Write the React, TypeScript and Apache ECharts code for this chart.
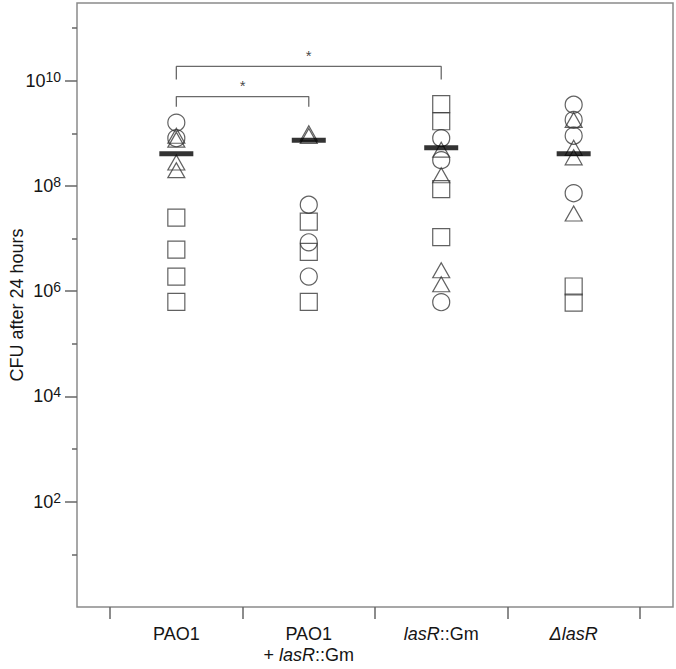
import React, { useEffect, useRef } from 'react';
import * as echarts from 'echarts';

// ---- data ----
const categories = ['PAO1', 'PAO1\n+ lasR::Gm', 'lasR::Gm', 'ΔlasR'];
const circleValues: number[][] = [
  [1.6e9, 8.1e8],
  [4.4e7, 8.5e6, 1.9e6],
  [8.1e8, 3.1e8, 6.2e5],
  [3.5e9, 1.8e9, 9.0e8, 7.3e7],
];
const squareValues: number[][] = [
  [2.5e7, 6.2e6, 1.9e6, 6.3e5],
  [2.1e7, 5.6e6, 6.3e5],
  [3.6e9, 1.7e9, 8.7e7, 1.07e7],
  [1.23e6, 6.1e5],
];
const triangleValues: number[][] = [
  [9.0e8, 7.6e8, 2.8e8, 2.0e8],
  [1.0e9, 8.9e8],
  [4.9e8, 1.6e8, 2.5e6, 1.36e6],
  [1.8e9, 5.3e8, 3.5e8, 3.0e7],
];
const meanValues = [4.1e8, 7.4e8, 5.3e8, 4.1e8];
const majorTicks = [1e2, 1e4, 1e6, 1e8, 1e10];
const minorTicks = [1e1, 1e3, 1e5, 1e7, 1e9, 1e11];
const groupBoundaries = [-0.5, 0.5, 1.5, 2.5, 3.5];
const comparisons = [
  { from: 0, to: 1, top: 5.0e9, leg: 3.2e9, label: '*' },
  { from: 0, to: 2, top: 1.87e10, leg: 1.05e10, label: '*' },
];

const FONT = 'Liberation Sans, Arial, Helvetica, sans-serif';
const TEXT = '#151515';

const toPoints = (groups: number[][]) =>
  groups.flatMap((vals, i) => vals.map((v) => [i, v]));

const fmtCat = (s: string) =>
  s
    .split('\n')
    .map((line) =>
      line
        .split(/(Δ?lasR)/)
        .filter(Boolean)
        .map((p) => (/lasR/.test(p) ? `{i|${p}}` : `{n|${p}}`))
        .join('')
    )
    .join('\n');

const shapeStyle = {
  color: 'rgba(0,0,0,0)',
  borderColor: '#3a3a3a',
  borderWidth: 1.2,
};

export default function App() {
  const ref = useRef<HTMLDivElement>(null);
  useEffect(() => {
    if (!ref.current) return;
    const chart = echarts.init(ref.current, undefined, { renderer: 'svg' });
    const option: any = {
      animation: false,
      backgroundColor: '#fff',
      grid: {
        left: 77,
        right: 3,
        top: 3,
        bottom: 62,
        show: true,
        borderColor: '#8a8a8a',
        borderWidth: 1.5,
        backgroundColor: 'transparent',
      },
      xAxis: {
        type: 'value',
        min: -0.75,
        max: 3.75,
        axisLine: { show: false, onZero: false },
        splitLine: { show: false },
        axisTick: {
          show: true,
          customValues: groupBoundaries,
          length: 12,
          lineStyle: { color: '#666', width: 1.5 },
        },
        axisLabel: {
          customValues: categories.map((_, i) => i),
          margin: 16,
          formatter: (v: number) => fmtCat(categories[Math.round(v)] || ''),
          rich: {
            n: { fontFamily: FONT, fontSize: 18, color: TEXT, lineHeight: 21 },
            i: { fontFamily: FONT, fontSize: 18, color: TEXT, lineHeight: 21, fontStyle: 'italic' },
          },
        },
      },
      yAxis: [
        {
          type: 'log',
          logBase: 10,
          min: 1,
          max: 3e11,
          position: 'left',
          axisLine: { show: false, onZero: false },
          splitLine: { show: false },
          axisTick: {
            show: true,
            customValues: minorTicks,
            length: 5,
            lineStyle: { color: '#666', width: 1.5 },
          },
          axisLabel: { show: false },
          name: 'CFU after 24 hours',
          nameLocation: 'middle',
          nameGap: 51,
          nameTextStyle: { fontFamily: FONT, fontSize: 18, color: TEXT },
        },
        {
          type: 'log',
          logBase: 10,
          min: 1,
          max: 3e11,
          position: 'left',
          axisLine: { show: false, onZero: false },
          splitLine: { show: false },
          axisTick: {
            show: true,
            customValues: majorTicks,
            length: 12,
            lineStyle: { color: '#666', width: 1.5 },
          },
          axisLabel: {
            customValues: majorTicks,
            margin: 16,
            formatter: (v: number) => `{b|10}{s|${Math.round(Math.log10(v))}}`,
            rich: {
              b: { fontFamily: FONT, fontSize: 18, color: TEXT, lineHeight: 22 },
              s: { fontFamily: FONT, fontSize: 14, color: TEXT, lineHeight: 13, verticalAlign: 'top' },
            },
          },
        },
      ],
      series: [
        ...comparisons.map((c) => ({
          type: 'line',
          yAxisIndex: 0,
          symbol: 'none',
          silent: true,
          lineStyle: { color: '#6a6a6a', width: 1.3 },
          data: [
            [c.from, c.leg],
            [c.from, c.top],
            [c.to, c.top],
            [c.to, c.leg],
          ],
          z: 1,
        })),
        {
          type: 'scatter',
          yAxisIndex: 0,
          symbolSize: 1,
          itemStyle: { color: 'rgba(0,0,0,0)' },
          silent: true,
          data: comparisons.map((c) => [(c.from + c.to) / 2, c.top]),
          label: {
            show: true,
            position: 'top',
            distance: 3,
            formatter: (p: any) => comparisons[p.dataIndex].label,
            fontFamily: FONT,
            fontSize: 15,
            color: TEXT,
          },
        },
        {
          type: 'scatter',
          name: 'circle',
          yAxisIndex: 0,
          symbol: 'circle',
          symbolSize: 17,
          itemStyle: shapeStyle,
          data: toPoints(circleValues),
          z: 2,
        },
        {
          type: 'scatter',
          name: 'square',
          yAxisIndex: 0,
          symbol: 'rect',
          symbolSize: 17,
          itemStyle: shapeStyle,
          data: toPoints(squareValues),
          z: 2,
        },
        {
          type: 'scatter',
          name: 'triangle',
          yAxisIndex: 0,
          symbol: 'triangle',
          symbolSize: [17, 15],
          itemStyle: shapeStyle,
          data: toPoints(triangleValues),
          z: 2,
        },
        {
          type: 'scatter',
          name: 'mean',
          yAxisIndex: 0,
          symbol: 'rect',
          symbolSize: [34, 5],
          itemStyle: { color: '#000' },
          data: meanValues.map((v, i) => [i, v]),
          z: 4,
        },
      ],
    };
    chart.setOption(option);
    return () => chart.dispose();
  }, []);
  return (
    <div
      ref={ref}
      style={{ position: 'fixed', left: 0, top: 0, width: 676, height: 669, background: '#fff' }}
    />
  );
}
